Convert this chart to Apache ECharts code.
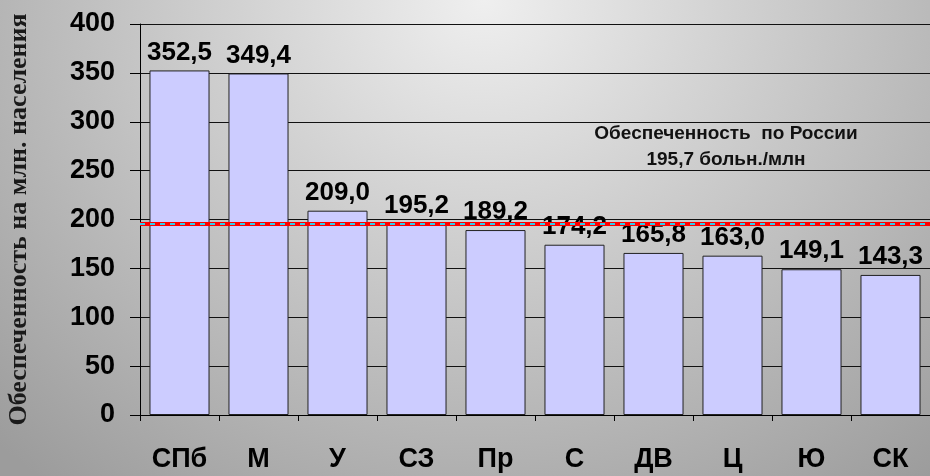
<!DOCTYPE html>
<html>
<head>
<meta charset="utf-8">
<script src="https://cdn.jsdelivr.net/npm/echarts@6/dist/echarts.min.js"></script>
<style>
html,body{margin:0;padding:0;}
body{width:930px;height:476px;overflow:hidden;
background:radial-gradient(ellipse 75% 130% at 52% 0%, #efefef 0%, #9c9c9c 100%);}
#c{width:930px;height:476px;}
</style>
</head>
<body>
<div id="c"></div>
<script>
const categories = ['СПб', 'М', 'У', 'СЗ', 'Пр', 'С', 'ДВ', 'Ц', 'Ю', 'СК'];
const values = [352.5, 349.4, 209.0, 195.2, 189.2, 174.2, 165.8, 163.0, 149.1, 143.3];
const russiaAverage = 195.7;
const yTicks = { min: 0, max: 400, interval: 50 };
const yAxisTitle = 'Обеспеченность на млн. населения';
const noteLines = ['Обеспеченность  по России', '195,7 больн./млн'];

const fmt = v => v.toFixed(1).replace('.', ',');
const sans = '"Liberation Sans", Arial, sans-serif';

const chart = echarts.init(document.getElementById('c'), null, { renderer: 'canvas' });
chart.setOption({
  backgroundColor: 'transparent',
  animation: false,
  grid: { left: 140, right: 0, top: 24, bottom: 61, containLabel: false, outerBoundsMode: 'none' },
  xAxis: {
    type: 'category',
    data: categories,
    axisLine: { lineStyle: { color: '#000', width: 1 } },
    axisTick: { show: true, length: 6, lineStyle: { color: '#000' } },
    axisLabel: { color: '#000', fontFamily: sans, fontWeight: 'bold', fontSize: 27, margin: 31 }
  },
  yAxis: {
    type: 'value',
    min: yTicks.min, max: yTicks.max, interval: yTicks.interval,
    name: yAxisTitle,
    nameLocation: 'middle',
    nameRotate: 90,
    nameGap: 108,
    nameTextStyle: { color: '#1a1a1a', fontFamily: '"Liberation Serif", "Times New Roman", serif', fontWeight: 'bold', fontSize: 26 },
    axisLine: { show: true, lineStyle: { color: '#000', width: 1 } },
    axisTick: { show: true, length: 10, lineStyle: { color: '#000' } },
    axisLabel: { color: '#000', fontFamily: sans, fontWeight: 'bold', fontSize: 27, margin: 25 },
    splitLine: { show: true, lineStyle: { color: '#111', width: 1 } }
  },
  series: [{
    type: 'bar',
    data: values,
    barCategoryGap: '24%',
    itemStyle: { color: '#ccccff', borderColor: '#222', borderWidth: 1 },
    label: {
      show: true, position: 'top', distance: 5,
      color: '#000', fontFamily: sans, fontWeight: 'bold', fontSize: 26,
      formatter: p => fmt(p.value)
    },
    markLine: {
      silent: true,
      symbol: 'none',
      label: { show: false },
      data: [
        { yAxis: russiaAverage, lineStyle: { color: '#ff0000', width: 4, type: 'solid' } },
        { yAxis: russiaAverage, lineStyle: { color: '#33ccee', width: 2, type: [5, 5] } }
      ]
    },
    z: 2
  }],
  graphic: [
    { type: 'text', x: 726, y: 121, style: { text: noteLines.join('\n'), fill: '#111', font: 'bold 19px ' + sans, textAlign: 'center', lineHeight: 26 } }
  ]
});
</script>
</body>
</html>
